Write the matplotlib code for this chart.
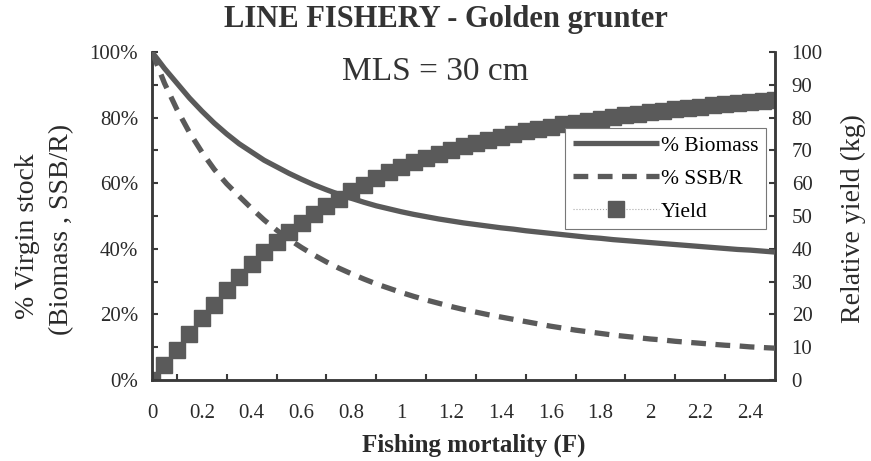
import numpy as np
import matplotlib
matplotlib.use('Agg')
import matplotlib.pyplot as plt
from matplotlib.ticker import MultipleLocator, FixedLocator, FixedFormatter

plt.rcParams['font.family'] = ['Liberation Serif', 'DejaVu Serif']

# Fishing mortality, one point every 0.05
F = [0.00, 0.05, 0.10, 0.15, 0.20, 0.25, 0.30, 0.35, 0.40, 0.45,
     0.50, 0.55, 0.60, 0.65, 0.70, 0.75, 0.80, 0.85, 0.90, 0.95,
     1.00, 1.05, 1.10, 1.15, 1.20, 1.25, 1.30, 1.35, 1.40, 1.45,
     1.50, 1.55, 1.60, 1.65, 1.70, 1.75, 1.80, 1.85, 1.90, 1.95,
     2.00, 2.05, 2.10, 2.15, 2.20, 2.25, 2.30, 2.35, 2.40, 2.45,
     2.50]

# % biomass (left axis)
biomass = [100, 95, 90.5, 86, 82, 78.3, 75, 72, 69.5, 67,
           65, 63, 61.2, 59.5, 58, 56.6, 55.4, 54.2, 53.1, 52.2,
           51.3, 50.5, 49.8, 49.1, 48.5, 47.9, 47.4, 46.9, 46.4, 46.0,
           45.5, 45.1, 44.7, 44.3, 43.9, 43.5, 43.2, 42.8, 42.5, 42.2,
           41.9, 41.6, 41.3, 41.0, 40.7, 40.4, 40.1, 39.8, 39.6, 39.3,
           39.0]

# % SSB/R (left axis)
ssbr = [100, 90.5, 82.5, 75.5, 69.5, 64.2, 59.8, 56, 52.3, 48.8,
        45.7, 42.9, 40.4, 38.1, 36.0, 34.1, 32.4, 30.8, 29.3, 28.0,
        26.7, 25.5, 24.4, 23.4, 22.4, 21.5, 20.7, 19.9, 19.2, 18.5,
        17.8, 17.1, 16.4, 15.8, 15.2, 14.7, 14.2, 13.7, 13.3, 12.9,
        12.5, 12.2, 11.8, 11.5, 11.2, 10.9, 10.6, 10.4, 10.1, 9.9,
        9.7]

# relative yield in kg (right axis)
yld = [0, 4.6, 9.2, 14, 19, 23, 27.5, 31.5, 35.5, 39,
       42, 45, 48, 50.5, 53, 55.3, 57.5, 59.5, 61.5, 63.3,
       65, 66.4, 67.7, 69, 70.2, 71.3, 72.3, 73.2, 74.1, 75,
       75.8, 76.5, 77.2, 77.9, 78.5, 79.1, 79.7, 80.2, 80.7, 81.2,
       81.7, 82.1, 82.5, 82.9, 83.3, 83.7, 84.0, 84.4, 84.7, 85.0,
       85.4]

xtick_pos = [0, 0.2, 0.4, 0.6, 0.8, 1.0, 1.2, 1.4, 1.6, 1.8, 2.0, 2.2, 2.4]
xtick_lab = ['0', '0.2', '0.4', '0.6', '0.8', '1', '1.2', '1.4', '1.6', '1.8', '2', '2.2', '2.4']

grey = '#5a5a5a'
axcol = '#3a3a3a'
txt = '#2a2a2a'

fig = plt.figure(figsize=(8.71, 4.61), dpi=100)
ax = fig.add_axes([152/871, 1-380/461, (775-152)/871, (380-52)/461])
ax2 = ax.twinx()

l1, = ax.plot(F, biomass, color=grey, lw=3.8, solid_capstyle='butt', label='% Biomass', zorder=3)
l2, = ax.plot(F, ssbr, color=grey, lw=3.8, dashes=(2.8, 1.8), label='% SSB/R', zorder=3)
l3, = ax2.plot(F, yld, color='#aaaaaa', lw=0.8, ls=':', marker='s', markersize=12,
               markerfacecolor=grey, markeredgecolor=grey, label='Yield', zorder=2)

ax.set_xlim(0, 2.5)
ax.set_ylim(0, 100)
ax2.set_ylim(0, 100)

ax.xaxis.set_major_locator(FixedLocator(xtick_pos))
ax.xaxis.set_major_formatter(FixedFormatter(xtick_lab))
ax.set_xticks(np.arange(0.1, 2.5, 0.1), minor=True)
ax.tick_params(axis='x', which='major', length=0, pad=17, labelsize=15, labelcolor=txt)
ax.tick_params(axis='x', which='minor', direction='in', length=4, width=1.5, color=axcol)

ax.yaxis.set_major_locator(MultipleLocator(20))
ax.yaxis.set_minor_locator(MultipleLocator(10))
ax.set_yticklabels([f'{int(v)}%' for v in ax.get_yticks()])
ax.tick_params(axis='y', which='both', direction='in', length=4, width=1.5, color=axcol,
               labelsize=15, pad=10, labelcolor=txt)
ax2.yaxis.set_major_locator(MultipleLocator(10))
ax2.tick_params(axis='y', direction='in', length=4, width=1.5, color=axcol, labelsize=15,
                pad=12, labelcolor=txt)

for a in (ax, ax2):
    a.spines['top'].set_visible(False)
    for s in ('left', 'right', 'bottom'):
        a.spines[s].set_color(axcol)
        a.spines[s].set_linewidth(1.8)

ax.set_zorder(ax2.get_zorder() + 1)
ax.patch.set_visible(False)

fig.text(474/871, 1-445/461, 'Fishing mortality (F)', ha='center', va='center',
         fontsize=18, fontweight='bold', color=txt)
fig.text(27/871, 1-236/461, '% Virgin stock', rotation=90, ha='center', va='center',
         fontsize=20, color=txt)
fig.text(62/871, 1-229/461, '(Biomass , SSB/R)', rotation=90, ha='center', va='center',
         fontsize=20, color=txt)
fig.text(853/871, 1-219/461, 'Relative yield (kg)', rotation=90, ha='center', va='center',
         fontsize=20, color=txt)

fig.text(446/871, 1-20/461, 'LINE FISHERY - Golden grunter', ha='center', va='center',
         fontsize=22, fontweight='bold', color='#333333')
fig.text(435/871, 1-72/461, 'MLS = 30 cm', ha='center', va='center', fontsize=24,
         color='#333333')

leg = ax.legend([l1, l2, l3], ['% Biomass', '% SSB/R', 'Yield'],
                loc='upper left', bbox_to_anchor=((565-152)/623, 1-(128-52)/328),
                fontsize=15.5, handlelength=4.0, handletextpad=0.1, labelspacing=0.6,
                borderpad=0.35, borderaxespad=0, fancybox=False, framealpha=1,
                edgecolor='#777777')
leg.get_frame().set_linewidth(0.8)

fig.savefig('out.png', dpi=100)
